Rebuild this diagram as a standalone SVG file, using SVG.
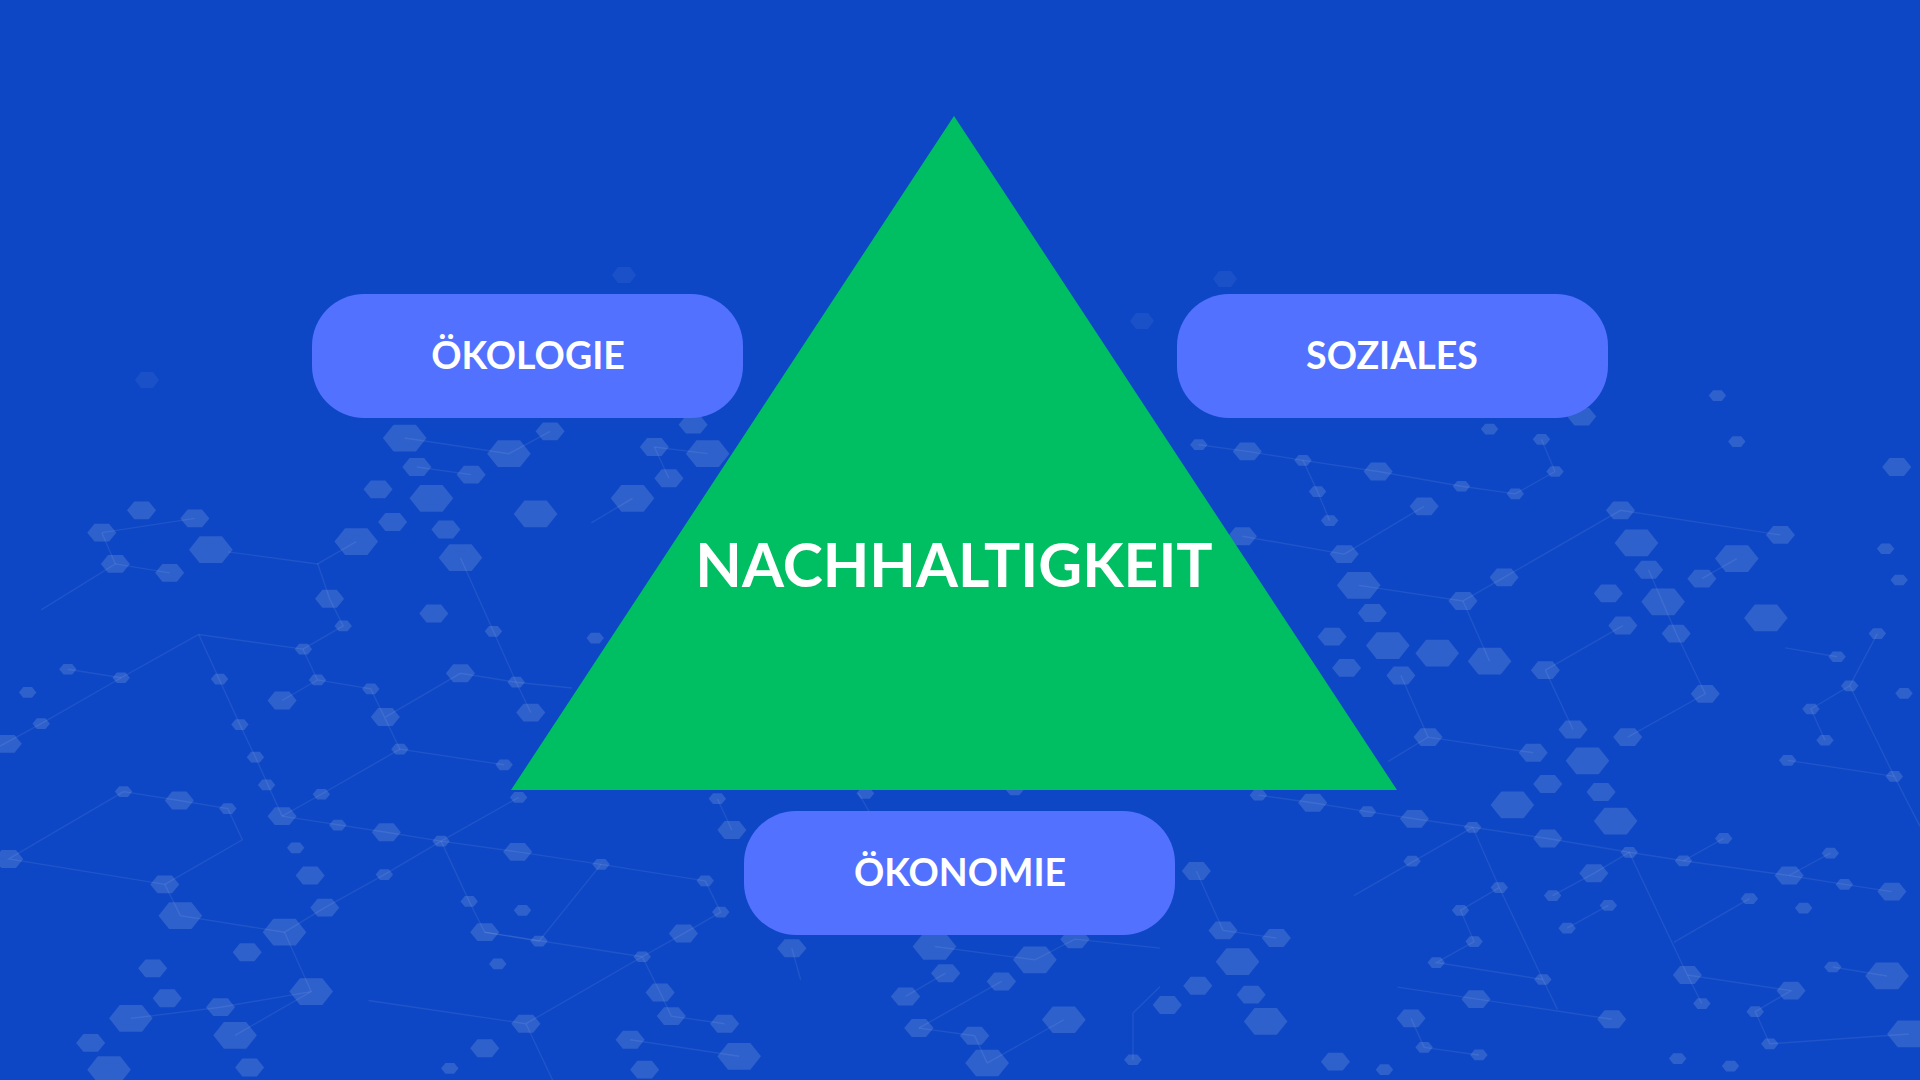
<svg xmlns="http://www.w3.org/2000/svg" xmlns:xlink="http://www.w3.org/1999/xlink" width="1920" height="1080" viewBox="0 0 1920 1080">
<style>
.hx{fill:#ffffff;fill-opacity:0.14}
.ln{fill:none;stroke:#ffffff;stroke-opacity:0.08;stroke-width:1.4}
.box{fill:#5271FF}
.lbl{font-family:Lato,"Open Sans","Liberation Sans",sans-serif;font-weight:700;fill:#ffffff;text-anchor:middle}
</style>
<defs>
<polygon id="b5" points="-45,0 -23,-30 23,-30 45,0 23,30 -23,30"/>
<polygon id="m5" points="-30,0 -15,-20 15,-20 30,0 15,20 -15,20"/>
<polygon id="s5" points="-18,0 -9,-12 9,-12 18,0 9,12 -9,12"/>
<polygon id="b7" points="-49,0 -25,-40 25,-40 49,0 25,40 -25,40"/>
<polygon id="m7" points="-33,0 -16,-27 16,-27 33,0 16,27 -16,27"/>
<polygon id="s7" points="-20,0 -10,-16 10,-16 20,0 10,16 -10,16"/>
</defs>
<rect x="0" y="0" width="1920" height="1080" fill="#0D47C5"/>
<g id="background-pattern">
<g transform="translate(0,380) scale(0.4847,0.4464)">
<g class="ln">
<polyline vector-effect="non-scaling-stroke" points="410,570 625,603 655,672 765,692 825,827 1040,862"/>
<polyline vector-effect="non-scaling-stroke" points="410,570 495,772 527,845 582,977"/>
<polyline vector-effect="non-scaling-stroke" points="410,570 250,667 85,770 0,820"/>
<polyline vector-effect="non-scaling-stroke" points="655,410 680,490 708,551 625,603"/>
<polyline vector-effect="non-scaling-stroke" points="470,385 655,412 735,362"/>
<polyline vector-effect="non-scaling-stroke" points="140,648 250,667"/>
<polyline vector-effect="non-scaling-stroke" points="582,718 655,672"/>
<polyline vector-effect="non-scaling-stroke" points="795,755 950,657 1065,677 1180,690"/>
<polyline vector-effect="non-scaling-stroke" points="950,398 1018,563 1065,677 1095,745"/>
<polyline vector-effect="non-scaling-stroke" points="825,827 663,928 582,977"/>
<polyline vector-effect="non-scaling-stroke" points="582,977 797,1013 910,1033 1068,1057 1240,1085 1455,1122"/>
<polyline vector-effect="non-scaling-stroke" points="910,1033 1070,935"/>
<polyline vector-effect="non-scaling-stroke" points="910,1033 968,1168 1000,1237 1325,1292"/>
<polyline vector-effect="non-scaling-stroke" points="1000,1237 1112,1257 1240,1085"/>
<polyline vector-effect="non-scaling-stroke" points="255,922 370,942 470,960 500,1030 340,1130"/>
<polyline vector-effect="non-scaling-stroke" points="255,922 18,1073 340,1130"/>
<polyline vector-effect="non-scaling-stroke" points="340,1130 372,1200 587,1237 670,1182 793,1108 910,1033"/>
<polyline vector-effect="non-scaling-stroke" points="587,1237 642,1370 485,1468"/>
<polyline vector-effect="non-scaling-stroke" points="1325,1292 1362,1372 1385,1425 1495,1442"/>
<polyline vector-effect="non-scaling-stroke" points="1325,1292 1085,1442 760,1390"/>
<polyline vector-effect="non-scaling-stroke" points="1455,1122 1487,1192 1410,1240 1325,1292"/>
<polyline vector-effect="non-scaling-stroke" points="1480,938 1510,1008"/>
<polyline vector-effect="non-scaling-stroke" points="1300,1478 1525,1515"/>
<polyline vector-effect="non-scaling-stroke" points="1085,1442 1140,1568"/>
<polyline vector-effect="non-scaling-stroke" points="270,1430 455,1405 642,1370"/>
<polyline vector-effect="non-scaling-stroke" points="85,515 238,412 350,432"/>
<polyline vector-effect="non-scaling-stroke" points="210,342 402,310"/>
<polyline vector-effect="non-scaling-stroke" points="238,412 210,342"/>
<polyline vector-effect="non-scaling-stroke" points="1350,150 1460,165"/>
<polyline vector-effect="non-scaling-stroke" points="1380,220 1350,150"/>
<polyline vector-effect="non-scaling-stroke" points="1305,265 1220,320"/>
<polyline vector-effect="non-scaling-stroke" points="835,130 1050,165 1135,115"/>
<polyline vector-effect="non-scaling-stroke" points="860,195 972,212"/>
</g>
<g class="hx">
<use href="#b5" x="835" y="130"/><use href="#b5" x="1050" y="165"/><use href="#m5" x="1135" y="115"/>
<use href="#m5" x="860" y="195"/><use href="#m5" x="972" y="212"/><use href="#b5" x="890" y="265"/>
<use href="#m5" x="780" y="245"/><use href="#m5" x="810" y="318"/><use href="#m5" x="920" y="335"/>
<use href="#b5" x="950" y="398"/><use href="#b5" x="735" y="362"/><use href="#b5" x="1105" y="300"/>
<use href="#m5" x="1350" y="150"/><use href="#b5" x="1460" y="165"/><use href="#m5" x="1380" y="220"/>
<use href="#b5" x="1305" y="265"/><use href="#m5" x="1430" y="100"/><use href="#m5" x="292" y="292"/>
<use href="#m5" x="402" y="310"/><use href="#b5" x="435" y="380"/><use href="#m5" x="210" y="342"/>
<use href="#m5" x="238" y="412"/><use href="#m5" x="350" y="432"/><use href="#m5" x="680" y="490"/>
<use href="#s5" x="708" y="551"/><use href="#s5" x="626" y="603"/><use href="#m5" x="895" y="523"/>
<use href="#s5" x="1018" y="563"/><use href="#m5" x="950" y="657"/><use href="#s5" x="1065" y="677"/>
<use href="#m5" x="1095" y="745"/><use href="#s5" x="1040" y="862"/><use href="#s5" x="1070" y="935"/>
<use href="#s5" x="765" y="692"/><use href="#s5" x="655" y="672"/><use href="#m5" x="582" y="718"/>
<use href="#m5" x="795" y="755"/><use href="#s5" x="825" y="827"/><use href="#s5" x="453" y="670"/>
<use href="#s5" x="495" y="772"/><use href="#s5" x="527" y="845"/><use href="#s5" x="550" y="907"/>
<use href="#s5" x="470" y="960"/><use href="#m5" x="582" y="977"/><use href="#s5" x="663" y="928"/>
<use href="#s5" x="697" y="997"/><use href="#m5" x="797" y="1013"/><use href="#s5" x="610" y="1048"/>
<use href="#m5" x="640" y="1110"/><use href="#s5" x="793" y="1108"/><use href="#s5" x="910" y="1033"/>
<use href="#m5" x="1068" y="1057"/><use href="#s5" x="1240" y="1085"/><use href="#s5" x="1455" y="1122"/>
<use href="#s5" x="1487" y="1192"/><use href="#m5" x="1410" y="1240"/><use href="#s5" x="1325" y="1292"/>
<use href="#m5" x="1362" y="1372"/><use href="#m5" x="1385" y="1425"/><use href="#m5" x="1300" y="1478"/>
<use href="#m5" x="1330" y="1545"/><use href="#m5" x="1495" y="1442"/><use href="#b5" x="1525" y="1515"/>
<use href="#s5" x="1480" y="938"/><use href="#m5" x="1510" y="1008"/><use href="#s5" x="968" y="1168"/>
<use href="#s5" x="1078" y="1188"/><use href="#m5" x="1000" y="1237"/><use href="#s5" x="1112" y="1257"/>
<use href="#s5" x="1027" y="1308"/><use href="#m5" x="1085" y="1442"/><use href="#m5" x="1000" y="1497"/>
<use href="#s5" x="928" y="1542"/><use href="#s5" x="255" y="922"/><use href="#m5" x="370" y="942"/>
<use href="#m5" x="18" y="1073"/><use href="#m5" x="340" y="1130"/><use href="#b5" x="372" y="1200"/>
<use href="#b5" x="587" y="1237"/><use href="#m5" x="670" y="1182"/><use href="#m5" x="510" y="1282"/>
<use href="#m5" x="315" y="1318"/><use href="#m5" x="345" y="1385"/><use href="#b5" x="270" y="1430"/>
<use href="#m5" x="455" y="1405"/><use href="#b5" x="642" y="1370"/><use href="#b5" x="485" y="1468"/>
<use href="#m5" x="187" y="1485"/><use href="#b5" x="225" y="1545"/><use href="#m5" x="515" y="1540"/>
<use href="#s5" x="140" y="648"/><use href="#s5" x="250" y="667"/><use href="#s5" x="57" y="700"/>
<use href="#s5" x="85" y="770"/><use href="#m5" x="15" y="815"/><use href="#s5" x="1228" y="578"/>
</g>
</g>
<g transform="translate(1160,380) scale(0.4847,0.4464)">
<g class="ln">
<polyline vector-effect="non-scaling-stroke" points="80,145 180,160 295,180 450,205 622,238 733,255 815,205"/>
<polyline vector-effect="non-scaling-stroke" points="295,180 325,250 350,315"/>
<polyline vector-effect="non-scaling-stroke" points="545,283 380,390"/>
<polyline vector-effect="non-scaling-stroke" points="815,205 787,133"/>
<polyline vector-effect="non-scaling-stroke" points="170,350 380,390"/>
<polyline vector-effect="non-scaling-stroke" points="410,460 625,495 710,442 950,292 1280,347"/>
<polyline vector-effect="non-scaling-stroke" points="625,495 680,630"/>
<polyline vector-effect="non-scaling-stroke" points="795,650 955,550"/>
<polyline vector-effect="non-scaling-stroke" points="1008,425 1065,568 1125,703 965,800"/>
<polyline vector-effect="non-scaling-stroke" points="795,650 852,783"/>
<polyline vector-effect="non-scaling-stroke" points="470,855 553,800 770,835"/>
<polyline vector-effect="non-scaling-stroke" points="553,800 497,662"/>
<polyline vector-effect="non-scaling-stroke" points="203,930 315,947 428,967 525,983 645,1002 800,1027 968,1058 1080,1077 1163,1027"/>
<polyline vector-effect="non-scaling-stroke" points="645,1002 400,1155"/>
<polyline vector-effect="non-scaling-stroke" points="645,1002 700,1137 790,1343 820,1410"/>
<polyline vector-effect="non-scaling-stroke" points="700,1137 620,1188 648,1258 570,1305 790,1343"/>
<polyline vector-effect="non-scaling-stroke" points="968,1058 1088,1333 1118,1397"/>
<polyline vector-effect="non-scaling-stroke" points="810,1155 895,1105 968,1058"/>
<polyline vector-effect="non-scaling-stroke" points="925,1177 840,1228"/>
<polyline vector-effect="non-scaling-stroke" points="1080,1077 1298,1110 1412,1130 1510,1146"/>
<polyline vector-effect="non-scaling-stroke" points="1298,1110 1383,1060"/>
<polyline vector-effect="non-scaling-stroke" points="1216,1162 1060,1260"/>
<polyline vector-effect="non-scaling-stroke" points="75,1100 130,1233 240,1250"/>
<polyline vector-effect="non-scaling-stroke" points="1088,1333 1302,1368 1228,1415 1258,1487 1545,1465"/>
<polyline vector-effect="non-scaling-stroke" points="490,1360 932,1432"/>
<polyline vector-effect="non-scaling-stroke" points="518,1430 545,1495 658,1512"/>
<polyline vector-effect="non-scaling-stroke" points="1388,1315 1500,1335"/>
<polyline vector-effect="non-scaling-stroke" points="1295,852 1515,888"/>
<polyline vector-effect="non-scaling-stroke" points="1372,807 1343,737 1423,685 1480,568"/>
<polyline vector-effect="non-scaling-stroke" points="1423,685 1515,888 1568,1000"/>
<polyline vector-effect="non-scaling-stroke" points="1397,620 1290,600"/>
<polyline vector-effect="non-scaling-stroke" points="1190,400 1118,445"/>
</g>
<g class="hx">
<use href="#m5" x="180" y="160"/><use href="#s5" x="80" y="145"/><use href="#s5" x="295" y="180"/>
<use href="#m5" x="450" y="205"/><use href="#s5" x="325" y="250"/><use href="#s5" x="350" y="315"/>
<use href="#m5" x="545" y="283"/><use href="#s5" x="622" y="238"/><use href="#s5" x="733" y="255"/>
<use href="#s5" x="815" y="205"/><use href="#s5" x="787" y="133"/><use href="#s5" x="680" y="110"/>
<use href="#s5" x="1150" y="35"/><use href="#s5" x="1190" y="138"/><use href="#m5" x="1280" y="347"/>
<use href="#m5" x="1520" y="195"/><use href="#s5" x="1497" y="378"/><use href="#s5" x="1525" y="448"/>
<use href="#m5" x="870" y="82"/><use href="#m5" x="170" y="350"/><use href="#m5" x="380" y="390"/>
<use href="#b5" x="410" y="460"/><use href="#m5" x="438" y="522"/><use href="#m5" x="355" y="575"/>
<use href="#b5" x="470" y="595"/><use href="#m5" x="385" y="645"/><use href="#m5" x="497" y="662"/>
<use href="#b5" x="572" y="612"/><use href="#b5" x="680" y="630"/><use href="#m5" x="710" y="442"/>
<use href="#m5" x="625" y="495"/><use href="#m5" x="795" y="650"/><use href="#m5" x="950" y="292"/>
<use href="#b5" x="983" y="365"/><use href="#m5" x="1008" y="425"/><use href="#m5" x="1118" y="445"/>
<use href="#b5" x="1190" y="400"/><use href="#m5" x="925" y="478"/><use href="#b5" x="1038" y="497"/>
<use href="#m5" x="955" y="550"/><use href="#m5" x="1065" y="568"/><use href="#b5" x="1250" y="533"/>
<use href="#m5" x="1125" y="703"/><use href="#m5" x="852" y="783"/><use href="#m5" x="965" y="800"/>
<use href="#m5" x="770" y="835"/><use href="#b5" x="882" y="853"/><use href="#m5" x="800" y="905"/>
<use href="#m5" x="910" y="923"/><use href="#b5" x="727" y="952"/><use href="#b5" x="940" y="988"/>
<use href="#m5" x="553" y="800"/><use href="#m5" x="525" y="983"/><use href="#s5" x="645" y="1002"/>
<use href="#m5" x="800" y="1027"/><use href="#s5" x="968" y="1058"/><use href="#s5" x="1080" y="1077"/>
<use href="#s5" x="1163" y="1027"/><use href="#m5" x="895" y="1105"/><use href="#s5" x="700" y="1137"/>
<use href="#s5" x="810" y="1155"/><use href="#s5" x="925" y="1177"/><use href="#s5" x="840" y="1228"/>
<use href="#s5" x="620" y="1188"/><use href="#s5" x="648" y="1258"/><use href="#s5" x="570" y="1305"/>
<use href="#s5" x="790" y="1343"/><use href="#s5" x="520" y="1078"/><use href="#m5" x="315" y="947"/>
<use href="#s5" x="428" y="967"/><use href="#s5" x="203" y="930"/><use href="#m5" x="75" y="1100"/>
<use href="#m5" x="130" y="1233"/><use href="#m5" x="240" y="1250"/><use href="#b5" x="160" y="1303"/>
<use href="#m5" x="78" y="1357"/><use href="#m5" x="188" y="1377"/><use href="#m5" x="15" y="1400"/>
<use href="#b5" x="218" y="1437"/><use href="#m5" x="1298" y="1110"/><use href="#s5" x="1383" y="1060"/>
<use href="#s5" x="1412" y="1130"/><use href="#s5" x="1328" y="1183"/><use href="#s5" x="1216" y="1162"/>
<use href="#m5" x="1510" y="1146"/><use href="#m5" x="1088" y="1333"/><use href="#s5" x="1118" y="1397"/>
<use href="#m5" x="1302" y="1368"/><use href="#s5" x="1228" y="1415"/><use href="#b5" x="1500" y="1335"/>
<use href="#s5" x="1388" y="1315"/><use href="#s5" x="1258" y="1487"/><use href="#m5" x="932" y="1432"/>
<use href="#m5" x="652" y="1387"/><use href="#m5" x="518" y="1430"/><use href="#s5" x="545" y="1495"/>
<use href="#s5" x="658" y="1512"/><use href="#m5" x="362" y="1527"/><use href="#s5" x="463" y="1545"/>
<use href="#s5" x="1068" y="1520"/><use href="#s5" x="1177" y="1537"/><use href="#b5" x="1545" y="1465"/>
<use href="#s5" x="1423" y="685"/><use href="#s5" x="1397" y="620"/><use href="#s5" x="1480" y="568"/>
<use href="#s5" x="1343" y="737"/><use href="#s5" x="1372" y="807"/><use href="#s5" x="1295" y="852"/>
<use href="#s5" x="1515" y="888"/><use href="#s5" x="1535" y="702"/>
</g>
</g>
<g transform="translate(600,780) scale(0.446,0.333)">
<g class="ln">
<polyline vector-effect="non-scaling-stroke" points="430,505 450,600"/>
<polyline vector-effect="non-scaling-stroke" points="750,500 975,540 1065,478 1256,505"/>
<polyline vector-effect="non-scaling-stroke" points="775,580 685,650"/>
<polyline vector-effect="non-scaling-stroke" points="900,605 715,745"/>
<polyline vector-effect="non-scaling-stroke" points="715,745 840,768 868,850"/>
<polyline vector-effect="non-scaling-stroke" points="1040,720 868,850"/>
<polyline vector-effect="non-scaling-stroke" points="580,40 610,110"/>
<polyline vector-effect="non-scaling-stroke" points="1256,620 1195,700 1195,840"/>
</g>
<g class="hx">
<use href="#m7" x="430" y="505"/><use href="#b7" x="750" y="500"/><use href="#b7" x="975" y="540"/>
<use href="#m7" x="775" y="580"/><use href="#m7" x="900" y="605"/><use href="#m7" x="685" y="650"/>
<use href="#b7" x="1040" y="720"/><use href="#m7" x="715" y="745"/><use href="#m7" x="840" y="768"/>
<use href="#b7" x="868" y="850"/><use href="#m7" x="1065" y="478"/><use href="#s7" x="595" y="40"/>
<use href="#s7" x="930" y="30"/><use href="#s7" x="1195" y="840"/>
</g>
</g>
<g style="fill:#ffffff;fill-opacity:0.06">
<polygon points="1130,321 1136,313 1148,313 1154,321 1148,329 1136,329"/>
<polygon points="1213,279 1219,271 1231,271 1237,279 1231,287 1219,287"/>
<polygon points="135,380 141,372 153,372 159,380 153,388 141,388"/>
<polygon points="612,275 618,267 630,267 636,275 630,283 618,283"/>
</g>
</g>
<g id="connectors"></g>
<g id="node-nachhaltigkeit">
<polygon points="954,116 511,790 1397,790" fill="#00BF63"/>
<text class="lbl" x="954" y="587" font-size="60.5">NACHHALTIGKEIT</text>
</g>
<g id="node-oekologie">
<rect class="box" x="312" y="294" width="431" height="124" rx="52" ry="52"/>
<text class="lbl" x="528" y="369" font-size="37.5">ÖKOLOGIE</text>
</g>
<g id="node-soziales">
<rect class="box" x="1177" y="294" width="431" height="124" rx="52" ry="52"/>
<text class="lbl" x="1392" y="369" font-size="37.5">SOZIALES</text>
</g>
<g id="node-oekonomie">
<rect class="box" x="744" y="811" width="431" height="124" rx="52" ry="52"/>
<text class="lbl" x="960" y="886" font-size="37.5">ÖKONOMIE</text>
</g>
</svg>
